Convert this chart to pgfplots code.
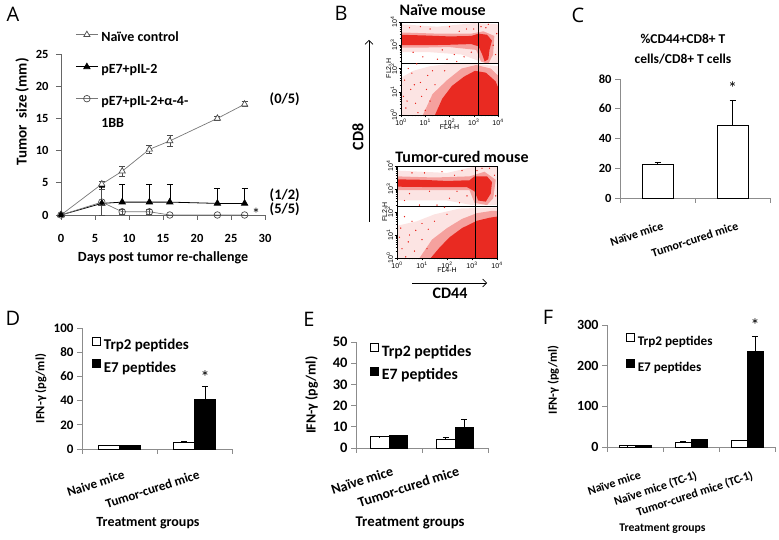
\documentclass[border=0pt]{standalone}
\usepackage{pgfplots}
\pgfplotsset{compat=1.18}
\usepackage{fontspec}
\usetikzlibrary{arrows.meta}
\setmainfont{Carlito}
\newfontfamily\flowfont{Liberation Sans}
\newfontfamily\panelfont{Open Sans}

\definecolor{flowred}{RGB}{232,36,28}
\definecolor{axgray}{RGB}{140,140,140}
\definecolor{lngray}{RGB}{120,120,120}

\newcommand{\fs}[1]{\bfseries\fontsize{#1}{#1}\selectfont}

\pgfplotsset{
  every axis title shift=0pt,
  xl/.style={scale only axis, anchor=south west, clip=false, enlargelimits=false,
    axis x line*=bottom, axis y line*=left,
    axis line style={axgray, line width=0.7pt},
    every tick/.style={axgray, line width=0.7pt},
    tick align=outside, major tick length=5pt,
    /pgf/number format/assume math mode=true},
  catbars/.style={xl, ybar=0pt, ymin=0, xmin=-0.5, xticklabels={},
    extra x tick style={major tick length=0pt,
      xticklabel style={rotate=18, anchor=north east, yshift=-20pt}},
    legend cell align=left,
    legend style={draw=none, fill=none, inner sep=0pt, anchor=north west,
      nodes={inner sep=0pt}, /tikz/every odd column/.style={column sep=3pt}}},
  sq/.style={legend image code/.code={\draw[##1, line width=0.6pt] (0pt,0pt) rectangle (8pt,8pt);}},
  eb/.style={error bars/.cd, y dir=plus, y explicit,
    error bar style={black, line width=0.6pt},
    error mark options={rotate=90, mark size=3pt, line width=0.6pt, black}},
  ebb/.style={error bars/.cd, y dir=both, y explicit,
    error bar style={black!70, line width=0.6pt},
    error mark options={rotate=90, mark size=3pt, line width=0.6pt, black!70}},
  flow/.style={scale only axis, anchor=south west, axis on top,
    xmin=0, xmax=4, ymin=0, ymax=4, xtick={0,...,4}, ytick={0,...,4},
    xticklabels={10\textsuperscript{0},10\textsuperscript{1},10\textsuperscript{2},10\textsuperscript{3},10\textsuperscript{4}},
    yticklabels={10\textsuperscript{0},10\textsuperscript{1},10\textsuperscript{2},10\textsuperscript{3},10\textsuperscript{4}},
    minor xtick={0.301,0.477,0.602,0.699,0.778,0.845,0.903,0.954,1.301,1.477,1.602,1.699,1.778,1.845,1.903,1.954,2.301,2.477,2.602,2.699,2.778,2.845,2.903,2.954,3.301,3.477,3.602,3.699,3.778,3.845,3.903,3.954},
    minor ytick={0.301,0.477,0.602,0.699,0.778,0.845,0.903,0.954,1.301,1.477,1.602,1.699,1.778,1.845,1.903,1.954,2.301,2.477,2.602,2.699,2.778,2.845,2.903,2.954,3.301,3.477,3.602,3.699,3.778,3.845,3.903,3.954},
    tick pos=left, tick align=outside, major tick length=2.5pt, minor tick length=1.5pt,
    every tick/.style={black, line width=0.4pt}, axis line style={line width=0.6pt},
    tick label style={font=\flowfont\fontsize{7}{7}\selectfont, inner sep=1pt},
    yticklabel style={rotate=90, anchor=south},
    xlabel={FL4-H}, ylabel={FL2-H},
    label style={font=\flowfont\fontsize{7}{7}\selectfont},
    xlabel style={yshift=5pt}, ylabel style={yshift=-5pt},
    title style={font=\fs{16}, anchor=center}},
  dense/.style={draw=none, fill=flowred, fill opacity=0.95},
  mid/.style={draw=none, fill=flowred, fill opacity=0.35},
  thin/.style={draw=none, fill=flowred, fill opacity=0.12},
  dots/.style={only marks, mark=*, mark size=0.4pt, flowred},
  quad/.style={black, line width=0.6pt},
}

\begin{document}
\begin{tikzpicture}
\path[use as bounding box] (0pt,0pt) rectangle (779pt,540pt);

% ---------------- A
\begin{axis}[xl, at={(61pt,325pt)}, width=204pt, height=161pt,
  xmin=0, xmax=30, ymin=0, ymax=25,
  xtick={0,5,...,30}, ytick={0,5,...,25},
  axis line style={black!60}, every tick/.style={black!60, line width=0.7pt},
  tick label style={font=\fs{12.5}},
  xticklabel style={yshift=-11pt}, yticklabel style={xshift=-4pt},
  xlabel={Days post tumor re-challenge},
  xlabel style={font=\fs{14}, at={(axis description cs:0.5,-0.267)}, anchor=center},
  ylabel={Tumor\hspace{7pt}size (mm)},
  ylabel style={font=\fs{15}, at={(axis description cs:-0.19,0.64)}, anchor=center},
  legend cell align=left,
  legend style={at={(axis description cs:0.07,1.143)}, anchor=north west, draw=none, fill=none,
    inner sep=0pt, font=\fs{14}, row sep=18.5pt,
    nodes={inner sep=0pt, text height=10pt, text depth=3pt},
    /tikz/every odd column/.style={column sep=3pt}},
  legend image code/.code={\draw[mark repeat=2, mark phase=2, #1] plot coordinates {(0pt,3.5pt) (11pt,3.5pt) (22pt,3.5pt)};},
]
\addplot[lngray, line width=0.7pt, mark=triangle*, mark size=3.6pt,
  mark options={fill=white, draw=black!70, solid}, ebb]
  coordinates {(0,0) +- (0,0) (6,4.8) +- (0,0.5) (9,6.8) +- (0,0.8) (13,10.2) +- (0,0.6)
               (16,11.5) +- (0,0.9) (23,15) +- (0,0.3) (27,17.2) +- (0,0.4)};
\addlegendentry{Naïve control}
\addplot[black, line width=0.8pt, mark=triangle*, mark size=3.6pt, mark options={fill=black}, eb]
  coordinates {(0,0) +- (0,0) (6,1.8) +- (0,2.7) (9,2) +- (0,2.8) (13,2) +- (0,2.8)
               (16,2) +- (0,2.8) (23,1.8) +- (0,2.4) (27,1.8) +- (0,2.4)};
\addlegendentry{pE7+pIL-2}
\addplot[lngray, line width=0.7pt, mark=o, mark size=3.3pt, mark options={draw=black!70, fill=white, solid}, ebb]
  coordinates {(0,0) +- (0,0) (6,2) +- (0,2.0) (9,0.5) +- (0,0.4) (13,0.5) +- (0,0.4)
               (16,0) +- (0,0) (23,0) +- (0,0) (27,0) +- (0,0)};
\addlegendentry{\parbox[t]{100pt}{pE7+pIL-2+α-4-\\[8pt]1BB}}
\node[font=\fs{14.5}] at (axis cs:32.9,17.9) {(0/5)};
\node[font=\fs{14.5}] at (axis cs:32.9,3.0) {(1/2)};
\node[font=\fs{14.5}] at (axis cs:32.9,0.9) {(5/5)};
\node[font=\fontsize{16}{16}\selectfont] at (axis cs:28.7,0.2) {*};
\end{axis}

% ---------------- B top
\begin{axis}[flow, at={(401pt,425pt)}, width=97pt, height=93pt,
  title={Naïve mouse}, title style={at={(axis description cs:0.43,1.13)}}]
\addplot[thin] coordinates {(0,2.7) (0,3.9) (1.5,3.8) (3,3.95) (4,3.9) (4,2.2) (3.4,2.25) (2.5,2.6) (1.2,2.7)} -- cycle;
\addplot[thin] coordinates {(0,0) (0,1.6) (0.5,1.9) (1.2,2.1) (2,2.2) (3,2.2) (4,2.1) (4,0)} -- cycle;
\addplot[mid] coordinates {(0.9,0) (1.3,0.9) (1.9,1.5) (2.5,2.0) (3.1,2.15) (3.7,2.0) (4,1.7) (4,0)} -- cycle;
\addplot[dense] coordinates {(1.4,0) (1.7,0.7) (2.1,1.25) (2.6,1.65) (3.05,1.9) (3.5,1.82) (3.9,1.45) (4,1.2) (4,0)} -- cycle;
\addplot[mid] coordinates {(0,2.9) (0,3.55) (1.5,3.5) (2.9,3.5) (3.4,3.6) (3.85,3.4) (3.8,2.6) (3.6,2.2) (3.3,2.3) (3.1,2.8) (2,2.92) (1,2.9)} -- cycle;
\addplot[dense] coordinates {(0,3.0) (0,3.45) (1,3.42) (2,3.38) (2.9,3.4) (3.2,3.5) (3.55,3.45) (3.75,3.2) (3.65,2.8) (3.6,2.4) (3.45,2.3) (3.35,2.6) (3.2,2.95) (2.9,3.05) (2,3.02) (1,3.0)} -- cycle;
\addplot[dots] coordinates {(0.2,0.3) (0.4,1.1) (0.6,0.5) (0.8,1.4) (0.3,2.0) (1.0,0.2) (1.1,1.7) (0.9,2.5)
  (1.5,2.4) (1.8,1.9) (2.2,2.6) (2.6,2.5) (2.9,2.7) (3.3,3.8) (2.7,3.7) (3.6,3.9) (2.0,3.8) (1.2,3.7)
  (3.9,2.6) (3.8,3.0) (0.5,2.7) (1.4,1.3) (0.7,0.1) (0.15,1.5) (3.95,3.5) (2.4,3.6) (1.7,2.8) (0.1,0.8)
  (1.2,0.6) (0.45,1.8) (0.25,0.6) (0.55,1.3) (0.85,0.8) (1.05,1.1) (1.3,1.9) (0.65,2.2) (1.9,2.4)
  (2.3,2.3) (3.0,3.7) (3.5,3.75) (0.35,3.75) (0.8,3.8)};
\addplot[quad] coordinates {(3.18,0) (3.18,4)};
\addplot[quad] coordinates {(0,2.21) (4,2.21)};
\end{axis}

% ---------------- B bottom
\begin{axis}[flow, at={(397pt,282pt)}, width=100pt, height=92pt,
  title={Tumor-cured mouse}, title style={at={(axis description cs:0.65,1.098)}}]
\addplot[thin] coordinates {(0,2.5) (0,3.8) (2,3.7) (3,3.95) (4,4) (4,2.3) (3,2.3) (2,2.5)} -- cycle;
\addplot[thin] coordinates {(0,0) (0,1.4) (0.8,1.6) (1.5,1.9) (2.5,2.15) (4,2.2) (4,0)} -- cycle;
\addplot[mid] coordinates {(0.9,0) (1.4,0.8) (2.0,1.3) (2.6,1.7) (3.2,1.95) (3.8,2.05) (4,2.05) (4,0)} -- cycle;
\addplot[dense] coordinates {(1.35,0) (1.7,0.45) (2.1,0.9) (2.6,1.3) (3.2,1.62) (3.7,1.75) (4,1.8) (4,0)} -- cycle;
\addplot[mid] coordinates {(0,2.95) (0,3.55) (1.5,3.5) (2.9,3.55) (3.5,3.75) (3.95,3.4) (3.85,2.6) (3.6,2.3) (3.1,2.4) (2.9,2.95) (1.5,2.95)} -- cycle;
\addplot[dense] coordinates {(0,3.1) (0,3.42) (1,3.4) (2,3.35) (2.9,3.38) (3.1,3.55) (3.6,3.55) (3.8,3.3) (3.75,2.8) (3.55,2.45) (3.25,2.5) (3.1,2.9) (2.8,3.08) (1.5,3.08)} -- cycle;
\addplot[dots] coordinates {(0.2,0.4) (0.5,1.0) (0.7,0.3) (0.3,1.8) (1.0,1.5) (1.2,0.4) (0.9,2.3) (1.6,2.3)
  (2.1,2.6) (2.5,2.4) (2.8,2.7) (3.2,3.8) (2.6,3.8) (3.7,3.9) (1.8,3.75) (1.1,3.7) (3.95,2.7) (3.9,3.6)
  (0.5,2.8) (1.5,1.6) (0.1,0.9) (2.3,3.6) (1.3,2.9) (0.6,3.7) (2.0,1.9) (0.35,0.05) (0.45,0.7)
  (0.75,1.2) (1.0,0.8) (1.25,1.25) (0.15,1.3) (0.6,1.6) (1.9,2.2) (2.4,2.9) (3.4,3.9) (0.3,2.5)};
\addplot[quad] coordinates {(3.13,0) (3.13,4)};
\addplot[quad] coordinates {(0,2.25) (4,2.25)};
\end{axis}

\node[font=\fs{16}, rotate=90] at (358pt,403pt) {CD8};
\draw[-{Straight Barb[length=4pt,width=8pt]}, line width=0.6pt] (369pt,318pt) -- (369pt,500pt);
\draw[-{Straight Barb[length=4pt,width=8pt]}, line width=0.6pt] (412pt,257pt) -- (487pt,257pt);
\node[font=\fs{16}] at (450pt,247pt) {CD44};

% ---------------- C
\begin{axis}[xl, ybar, at={(620pt,342pt)}, width=150pt, height=119pt, bar width=31pt,
  ymin=0, ymax=80, ytick={0,20,...,80}, xmin=-0.5, xmax=1.5,
  xtick={-0.5,0.5,1.5}, xticklabels={},
  extra x ticks={0,1}, extra x tick labels={Naïve mice,Tumor-cured mice},
  extra x tick style={major tick length=0pt,
    xticklabel style={rotate=18, anchor=north east, yshift=-20pt, font=\fs{12}}},
  yticklabel style={font=\fs{12.5}},
  title={\%CD44+CD8+ T\\cells/CD8+ T cells},
  title style={align=center, at={(axis description cs:0.42,1.255)}, anchor=center,
    font=\bfseries\fontsize{13.5}{20}\selectfont},
]
\addplot[fill=white, draw=black, line width=0.6pt, eb] coordinates {(0,22.5) +- (0,1.5) (1,49) +- (0,16.5)};
\node[font=\fontsize{18}{18}\selectfont] at (axis cs:1,74) {*};
\end{axis}

% ---------------- D
\begin{axis}[catbars, at={(82pt,91pt)}, width=150pt, height=121pt, bar width=21pt,
  ymax=100, ytick={0,20,...,100}, xmax=1.5, xtick={-0.5,0.5,1.5},
  extra x ticks={0,1}, extra x tick labels={Naive mice,Tumor-cured mice},
  extra x tick style={xticklabel style={font=\fs{13}, yshift=3pt}},
  yticklabel style={font=\fs{13}},
  ylabel={IFN-γ (pg/ml)}, ylabel style={font=\fs{12.5}, at={(axis description cs:-0.275,0.5)}, anchor=center},
  xlabel={Treatment groups}, xlabel style={font=\fs{14}, at={(axis description cs:0.44,-0.61)}, anchor=center},
  legend style={at={(axis description cs:0.067,0.926)}, font=\fs{15}, row sep=8pt},
]
\addplot[sq, fill=white, draw=black, line width=0.6pt, eb] coordinates {(0,2.8) +- (0,0.2) (1,5.5) +- (0,0.5)};
\addplot[sq, fill=black, draw=black, line width=0.6pt, eb] coordinates {(0,2.8) +- (0,0.2) (1,41) +- (0,10.5)};
\legend{Trp2 peptides,E7 peptides}
\node[font=\fontsize{18}{18}\selectfont, xshift=10.5pt] at (axis cs:1,59) {*};
\end{axis}

% ---------------- E
\begin{axis}[catbars, at={(356pt,92pt)}, width=132pt, height=106pt, bar width=18.5pt,
  ymax=50, ytick={0,10,...,50}, xmax=1.5, xtick={-0.5,0.5,1.5},
  extra x ticks={0,1}, extra x tick labels={Naïve mice,Tumor-cured mice},
  extra x tick style={xticklabel style={font=\fs{14}, yshift=6pt}},
  yticklabel style={font=\fs{14.5}},
  ylabel={IFN-γ (pg/ml)}, ylabel style={font=\fs{14}, at={(axis description cs:-0.336,0.5)}, anchor=center},
  xlabel={Treatment groups}, xlabel style={font=\fs{14.8}, at={(axis description cs:0.41,-0.71)}, anchor=center},
  legend style={at={(axis description cs:0.106,0.99)}, font=\fs{15.8}, row sep=9pt},
]
\addplot[sq, fill=white, draw=black, line width=0.6pt, eb] coordinates {(0,5.3) +- (0,0.1) (1,4.3) +- (0,0.6)};
\addplot[sq, fill=black, draw=black, line width=0.6pt, eb] coordinates {(0,5.8) +- (0,0.1) (1,9.6) +- (0,3.9)};
\legend{Trp2 peptides,E7 peptides}
\end{axis}

% ---------------- F
\begin{axis}[catbars, at={(607pt,93pt)}, width=168pt, height=122pt, bar width=16pt,
  ymax=300, ytick={0,100,200,300}, xmax=2.5, xtick={-0.5,0.5,1.5,2.5},
  extra x ticks={0,1,2}, extra x tick labels={Naïve mice,Naïve mice (TC-1),Tumor-cured mice (TC-1)},
  extra x tick style={xticklabel style={font=\fs{12}}},
  yticklabel style={font=\fs{14}},
  ylabel={IFN-γ (pg/ml)}, ylabel style={font=\fs{12.4}, at={(axis description cs:-0.32,0.55)}, anchor=center},
  xlabel={Treatment groups}, xlabel style={font=\fs{11.7}, at={(axis description cs:0.33,-0.67)}, anchor=center},
  legend style={at={(axis description cs:0.113,0.934)}, font=\fs{13.2}, row sep=12pt},
]
\addplot[sq, fill=white, draw=black, line width=0.6pt, eb] coordinates {(0,3) +- (0,0.5) (1,12) +- (0,0.8) (2,16) +- (0,1)};
\addplot[sq, fill=black, draw=black, line width=0.6pt, eb] coordinates {(0,3) +- (0,0.5) (1,19) +- (0,1) (2,235) +- (0,37)};
\legend{Trp2 peptides,E7 peptides}
\node[font=\fontsize{18}{18}\selectfont, xshift=8pt] at (axis cs:2,300) {*};
\end{axis}

% panel letters
\node[font=\panelfont\fontsize{20}{20}\selectfont] at (13pt,526pt) {A};
\node[font=\panelfont\fontsize{20}{20}\selectfont] at (341pt,527pt) {B};
\node[font=\panelfont\fontsize{20}{20}\selectfont] at (578pt,525pt) {C};
\node[font=\panelfont\fontsize{20}{20}\selectfont] at (13pt,222pt) {D};
\node[font=\panelfont\fontsize{20}{20}\selectfont] at (309pt,221pt) {E};
\node[font=\panelfont\fontsize{20}{20}\selectfont] at (548pt,223pt) {F};
\end{tikzpicture}
\end{document}
